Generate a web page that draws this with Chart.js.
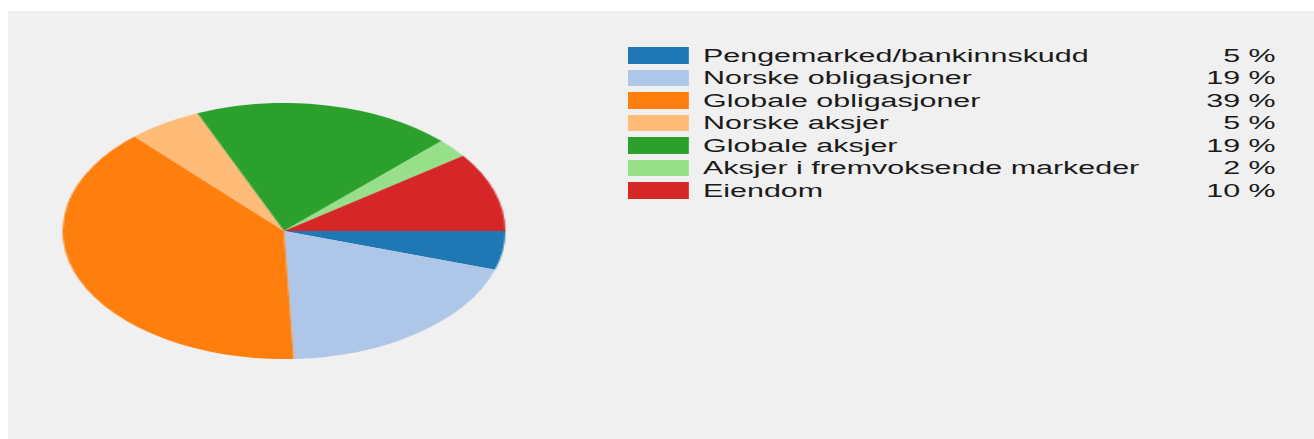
<!DOCTYPE html>
<html>
<head>
<meta charset="utf-8">
<script src="https://cdn.jsdelivr.net/npm/chart.js@4/dist/chart.umd.min.js"></script>
<style>
  html, body { margin: 0; padding: 0; background: #ffffff; width: 1314px; height: 439px; overflow: hidden; }
  #panel { position: absolute; left: 8px; top: 11px; width: 1306px; height: 428px; background: #f0f0f0; }
  #pieWrap { position: absolute; left: 155.5px; top: 103px; width: 256px; height: 256px;
             transform: scaleX(1.73); transform-origin: 128px 128px; }
  #legend { position: absolute; left: 627.7px; top: 0; width: 390px; height: 200px;
            transform: scaleX(1.69); transform-origin: 0 0;
            font-family: "Liberation Sans", Arial, sans-serif; font-size: 18px; color: #1a1a1a; }
  .box { position: absolute; left: 0; width: 35.5px; height: 16.5px; }
  .lbl { position: absolute; left: 44.4px; line-height: 18px; white-space: nowrap; }
  .pct { position: absolute; right: 6.8px; line-height: 18px; white-space: nowrap; text-align: right; }
</style>
</head>
<body>
<div id="panel"></div>
<div id="pieWrap"><canvas id="pie"></canvas></div>
<div id="legend"></div>
<script>
const categories = [
  "Pengemarked/bankinnskudd",
  "Norske obligasjoner",
  "Globale obligasjoner",
  "Norske aksjer",
  "Globale aksjer",
  "Aksjer i fremvoksende markeder",
  "Eiendom"
];
const shares = [4.9, 19.4, 38.9, 5.4, 19.0, 2.4, 10.0];
const percentLabels = ["5 %", "19 %", "39 %", "5 %", "19 %", "2 %", "10 %"];
const colors = ["#1f77b4", "#aec7e8", "#ff7f0e", "#ffbb78", "#2ca02c", "#98df8a", "#d62728"];

new Chart(document.getElementById('pie'), {
  type: 'pie',
  data: {
    labels: categories,
    datasets: [{
      data: shares,
      backgroundColor: colors,
      borderWidth: 0,
      hoverBorderWidth: 0,
      hoverOffset: 0
    }]
  },
  options: {
    responsive: true,
    maintainAspectRatio: false,
    animation: false,
    rotation: 90,
    layout: { padding: 0 },
    events: [],
    plugins: { legend: { display: false }, tooltip: { enabled: false } }
  }
});

const legend = document.getElementById('legend');
categories.forEach((name, i) => {
  const y = 47.3 + i * 22.5;
  const box = document.createElement('div');
  box.className = 'box';
  box.style.top = y + 'px';
  box.style.background = colors[i];
  legend.appendChild(box);
  const lbl = document.createElement('div');
  lbl.className = 'lbl';
  lbl.style.top = (y - 0.8) + 'px';
  lbl.textContent = name;
  legend.appendChild(lbl);
  const pct = document.createElement('div');
  pct.className = 'pct';
  pct.style.top = (y - 0.8) + 'px';
  pct.textContent = percentLabels[i];
  legend.appendChild(pct);
});
</script>
</body>
</html>
